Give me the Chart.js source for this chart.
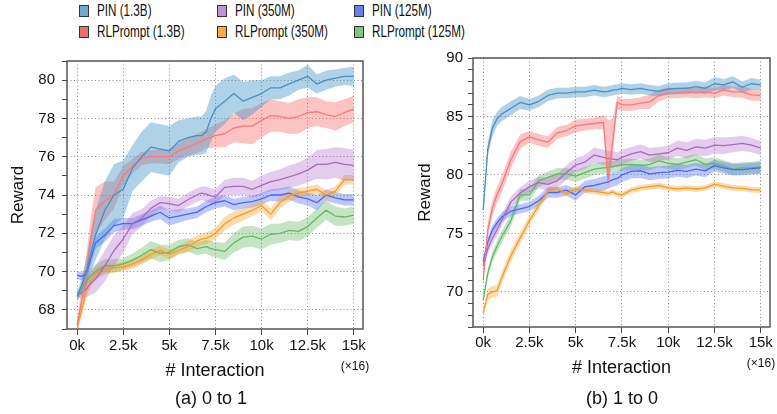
<!DOCTYPE html>
<html>
<head>
<meta charset="utf-8">
<script src="https://cdn.jsdelivr.net/npm/chart.js@4.4.1/dist/chart.umd.min.js"></script>
<style>
  body { margin: 0; background: #fff; width: 777px; height: 414px; position: relative; overflow: hidden;
         font-family: 'Liberation Sans', Arial, sans-serif; color: #111; }
  canvas { position: absolute; top: 0; }
  #chartA { left: 0; }
  #chartB { left: 390px; }
  .lg-box { position: absolute; width: 8px; height: 10px; border: 1px solid #333; }
  .lg-text { position: absolute; font-family: 'Liberation Sans', Arial, sans-serif;
             font-size: 16px; line-height: 20px; white-space: nowrap;
             transform: scaleX(0.73); transform-origin: 0 50%; }
  .caption { position: absolute; font-size: 18px; white-space: nowrap; transform: translate(-50%, -50%); }
  .mult { position: absolute; font-size: 12px; white-space: nowrap; transform: translate(-50%, -50%); }
</style>
</head>
<body>
<div id="legend"></div>
<canvas id="chartA" width="390" height="414"></canvas>
<canvas id="chartB" width="387" height="414"></canvas>
<div class="caption" style="left:211px; top:398px;">(a) 0 to 1</div>
<div class="caption" style="left:622px; top:398px;">(b) 1 to 0</div>
<div class="mult" style="left:355px; top:366px;">(×16)</div>
<div class="mult" style="left:761px; top:363px;">(×16)</div>
<script>
// x positions (in thousands of interactions)
const X = [0, 0.25, 0.5, 0.75, 1, 1.5, 2, 2.5, 3, 3.5, 4, 4.5, 5, 5.5, 6, 6.5, 6.75, 7, 7.25, 7.5,
           8, 8.5, 9, 9.5, 10, 10.5, 11, 11.5, 12, 12.5, 13, 13.5, 14, 14.5, 15];
const X_TICKS = [0, 2.5, 5, 7.5, 10, 12.5, 15];
const X_LABELS = ["0k", "2.5k", "5k", "7.5k", "10k", "12.5k", "15k"];
const Y_TICKS_A = [67, 68, 69, 70, 71, 72, 73, 74, 75, 76, 77, 78, 79, 80, 81];
const Y_MAJOR_A = [68, 70, 72, 74, 76, 78, 80];
const Y_TICKS_B = [67, 68, 69, 70, 71, 72, 73, 74, 75, 76, 77, 78, 79, 80, 81, 82, 83, 84, 85, 86, 87, 88, 89, 90];
const Y_MAJOR_B = [70, 75, 80, 85, 90];

const NAMES = ["PIN (1.3B)", "RLPrompt (1.3B)", "PIN (350M)", "RLPrompt (350M)", "PIN (125M)", "RLPrompt (125M)"];
const LINE_COLORS = ["#4a8ec1", "#f37b7b", "#a66bbf", "#f59c2a", "#4a67f5", "#66b866"];
const BAND_COLORS = ["rgba(64,148,199,0.42)", "rgba(250,110,110,0.42)", "rgba(170,100,200,0.33)",
                     "rgba(247,160,40,0.38)", "rgba(80,110,245,0.38)", "rgba(100,185,100,0.38)"];
const LEGEND_COLORS = ["#70a9d2", "#ef6f6b", "#c093d4", "#f9aa48", "#6a7ff2", "#80c880"];

// (a) 0 to 1 : mean reward and half band width
const aPin13 = [68.7, 69.3, 70.0, 71.0, 71.9, 73.2, 74.0, 74.3, 75.4, 76.0, 76.5, 76.4, 76.3, 76.8, 77.0, 77.1, 77.1, 77.3, 78.0, 78.5,
                78.9, 79.3, 78.9, 79.1, 79.3, 79.6, 79.6, 79.8, 80.0, 80.2, 79.8, 80.0, 80.1, 80.2, 80.2];
const aPin13Sd = [0.2, 0.4, 0.7, 1.0, 1.3, 1.5, 1.6, 1.5, 1.2, 1.3, 1.3, 1.3, 1.3, 1.1, 1.0, 1.0, 1.0, 1.1, 1.2, 1.2,
                  1.2, 1.0, 1.0, 0.9, 0.7, 0.6, 0.6, 0.6, 0.5, 0.6, 0.5, 0.5, 0.45, 0.45, 0.5];
const aRl13 = [67.2, 68.5, 70.0, 71.8, 73.2, 73.7, 74.0, 75.0, 75.5, 75.9, 76.0, 76.0, 76.0, 76.3, 76.5, 76.7, 76.8, 76.95, 77.0, 77.1,
               77.2, 77.5, 77.6, 77.6, 77.9, 78.15, 78.1, 78.0, 78.1, 78.3, 78.35, 78.2, 78.1, 78.3, 78.5];
const aRl13Sd = [0.3, 0.6, 0.9, 1.1, 1.2, 1.0, 0.7, 0.5, 0.4, 0.35, 0.35, 0.35, 0.4, 0.4, 0.45, 0.5, 0.5, 0.5, 0.55, 0.6,
                 0.7, 0.75, 0.9, 0.95, 0.9, 0.85, 0.8, 0.8, 0.9, 0.8, 0.75, 0.7, 0.75, 0.7, 0.7];
const aPin350 = [68.8, 68.9, 69.1, 69.4, 69.6, 70.3, 71.1, 71.7, 72.5, 72.8, 73.3, 73.6, 73.55, 73.45, 73.75, 74.0, 74.1, 74.05, 73.95, 73.9,
                 74.4, 74.45, 74.45, 74.3, 74.5, 74.7, 74.8, 74.95, 75.1, 75.3, 75.6, 75.6, 75.7, 75.6, 75.55];
const aPin350Sd = [0.2, 0.3, 0.45, 0.6, 0.7, 0.8, 0.8, 0.7, 0.55, 0.45, 0.4, 0.35, 0.35, 0.35, 0.35, 0.35, 0.35, 0.4, 0.4, 0.4,
                   0.4, 0.45, 0.45, 0.45, 0.5, 0.5, 0.55, 0.6, 0.6, 0.65, 0.75, 0.8, 0.8, 0.85, 0.8];
const aRl350 = [67.1, 68.0, 69.0, 69.5, 69.9, 70.1, 70.2, 70.25, 70.4, 70.6, 70.9, 71.1, 70.9, 71.1, 71.3, 71.6, 71.7, 71.75, 71.85, 72.0,
                72.5, 72.8, 73.0, 73.2, 73.45, 73.0, 73.6, 73.95, 74.1, 74.2, 74.3, 74.0, 74.2, 74.8, 74.8];
const aRl350Sd = [0.3, 0.35, 0.35, 0.3, 0.3, 0.25, 0.25, 0.25, 0.25, 0.25, 0.25, 0.25, 0.25, 0.25, 0.3, 0.3, 0.3, 0.3, 0.3, 0.3,
                  0.35, 0.35, 0.35, 0.3, 0.3, 0.3, 0.3, 0.3, 0.25, 0.25, 0.25, 0.25, 0.25, 0.25, 0.25];
const aPin125 = [69.8, 69.75, 69.9, 70.7, 71.5, 71.9, 72.4, 72.5, 72.5, 72.7, 72.9, 73.1, 72.8, 72.9, 73.0, 73.1, 73.25, 73.4, 73.5, 73.6,
                 73.7, 73.5, 73.6, 73.65, 73.8, 74.0, 74.0, 74.1, 73.9, 73.8, 73.6, 74.0, 73.85, 73.75, 73.75];
const aPin125Sd = [0.2, 0.2, 0.25, 0.3, 0.3, 0.35, 0.35, 0.3, 0.3, 0.3, 0.3, 0.35, 0.4, 0.35, 0.3, 0.3, 0.3, 0.3, 0.3, 0.3,
                   0.3, 0.3, 0.3, 0.3, 0.3, 0.3, 0.35, 0.35, 0.35, 0.35, 0.4, 0.3, 0.3, 0.3, 0.3];
const aRl125 = [68.7, 69.1, 69.5, 69.8, 70.0, 70.3, 70.3, 70.4, 70.6, 70.85, 71.15, 70.95, 71.0, 71.3, 71.4, 71.2, 71.25, 71.3, 71.2, 71.15,
                71.05, 71.5, 71.8, 71.85, 71.7, 71.95, 72.0, 72.15, 72.1, 72.35, 72.8, 73.2, 72.9, 72.85, 72.95];
const aRl125Sd = [0.2, 0.3, 0.3, 0.35, 0.35, 0.35, 0.35, 0.3, 0.35, 0.4, 0.45, 0.45, 0.4, 0.35, 0.35, 0.35, 0.35, 0.35, 0.4, 0.4,
                  0.45, 0.5, 0.55, 0.55, 0.55, 0.55, 0.5, 0.5, 0.5, 0.5, 0.5, 0.5, 0.5, 0.45, 0.45];

// (b) 1 to 0
const bPin13 = [77.0, 82.2, 84.0, 84.8, 85.2, 85.7, 86.2, 86.0, 86.3, 86.8, 87.0, 87.0, 87.1, 87.1, 87.25, 87.1, 87.15, 87.25, 87.3, 87.4,
                87.3, 87.4, 87.25, 87.15, 87.35, 87.4, 87.4, 87.55, 87.4, 87.8, 87.7, 87.95, 87.5, 87.8, 87.7];
const bPin13Sd = [0.3, 0.6, 0.7, 0.6, 0.6, 0.6, 0.55, 0.5, 0.5, 0.5, 0.45, 0.45, 0.45, 0.45, 0.45, 0.45, 0.45, 0.45, 0.45, 0.45,
                  0.45, 0.45, 0.45, 0.45, 0.5, 0.5, 0.5, 0.5, 0.5, 0.55, 0.5, 0.5, 0.5, 0.5, 0.45];
const bRl13 = [71.0, 75.3, 77.2, 78.3, 79.2, 81.3, 82.85, 83.25, 83.0, 82.8, 83.6, 83.8, 84.2, 84.3, 84.4, 84.5, 79.6, 82.9, 86.2, 86.0,
               86.0, 86.15, 86.25, 86.8, 87.0, 87.0, 87.1, 87.0, 87.1, 87.0, 87.25, 87.1, 87.1, 86.85, 86.8];
const bRl13Sd = [0.3, 0.6, 0.7, 0.7, 0.7, 0.7, 0.6, 0.5, 0.5, 0.5, 0.5, 0.5, 0.55, 0.5, 0.5, 0.6, 0.7, 1.4, 0.6, 0.5,
                 0.5, 0.5, 0.6, 0.5, 0.45, 0.45, 0.45, 0.45, 0.45, 0.45, 0.45, 0.45, 0.5, 0.5, 0.45];
const bRl13SdUp = [0.3, 0.6, 0.7, 0.7, 0.7, 0.7, 0.6, 0.5, 0.5, 0.5, 0.5, 0.5, 0.55, 0.5, 0.5, 0.6, 5.1, 1.9, 0.6, 0.5,
                   0.5, 0.5, 0.6, 0.5, 0.45, 0.45, 0.45, 0.45, 0.45, 0.45, 0.45, 0.45, 0.5, 0.5, 0.45];
const bPin350 = [72.2, 73.7, 74.6, 75.3, 76.1, 77.7, 78.45, 79.0, 79.35, 79.2, 79.5, 80.2, 80.85, 81.1, 81.7, 81.5, 81.4, 81.35, 81.3, 81.5,
                 81.8, 82.0, 81.7, 81.8, 81.9, 82.3, 82.1, 82.4, 82.3, 82.55, 82.5, 82.6, 82.7, 82.55, 82.3];
const bPin350Sd = [0.3, 0.45, 0.5, 0.5, 0.5, 0.5, 0.5, 0.5, 0.5, 0.55, 0.6, 0.6, 0.6, 0.6, 0.65, 0.65, 0.65, 0.65, 0.65, 0.65,
                   0.6, 0.6, 0.6, 0.6, 0.6, 0.65, 0.7, 0.7, 0.7, 0.7, 0.7, 0.65, 0.65, 0.6, 0.6];
const bRl350 = [68.2, 69.8, 70.0, 70.1, 71.2, 73.1, 74.6, 76.1, 77.4, 78.6, 78.8, 78.4, 78.8, 78.7, 78.6, 78.5, 78.4, 78.55, 78.35, 78.3,
                78.7, 78.9, 79.0, 79.1, 78.9, 78.8, 78.9, 78.8, 78.9, 79.2, 79.05, 78.9, 78.85, 78.75, 78.7];
const bRl350Sd = [0.3, 0.5, 0.5, 0.5, 0.5, 0.5, 0.5, 0.45, 0.4, 0.3, 0.25, 0.25, 0.25, 0.25, 0.25, 0.25, 0.25, 0.25, 0.25, 0.25,
                  0.25, 0.25, 0.25, 0.25, 0.25, 0.25, 0.25, 0.25, 0.25, 0.25, 0.25, 0.25, 0.25, 0.25, 0.25];
const bPin125 = [72.6, 74.3, 75.3, 75.9, 76.4, 76.9, 77.1, 77.3, 77.8, 78.5, 78.5, 78.7, 78.3, 79.0, 79.1, 79.3, 79.4, 79.6, 79.7, 80.0,
                 80.3, 80.35, 80.1, 80.2, 80.25, 80.4, 80.3, 80.5, 80.35, 80.8, 80.6, 80.45, 80.45, 80.55, 80.6];
const bPin125Sd = [0.3, 0.4, 0.4, 0.4, 0.4, 0.4, 0.4, 0.4, 0.45, 0.45, 0.45, 0.45, 0.5, 0.5, 0.55, 0.6, 0.6, 0.6, 0.6, 0.6,
                   0.6, 0.6, 0.55, 0.55, 0.55, 0.55, 0.55, 0.55, 0.55, 0.5, 0.5, 0.5, 0.5, 0.5, 0.5];
const bRl125 = [69.3, 71.6, 73.0, 73.9, 74.7, 76.1, 78.3, 78.3, 79.5, 79.8, 80.1, 80.1, 79.9, 80.2, 80.5, 80.6, 80.65, 80.7, 80.8, 80.85,
                80.9, 80.8, 80.9, 81.2, 81.0, 80.9, 81.1, 81.3, 80.9, 81.0, 80.75, 80.5, 80.6, 80.6, 80.7];
const bRl125Sd = [0.3, 0.4, 0.45, 0.5, 0.5, 0.5, 0.5, 0.5, 0.5, 0.5, 0.5, 0.5, 0.5, 0.5, 0.5, 0.5, 0.5, 0.5, 0.5, 0.5,
                  0.5, 0.5, 0.5, 0.55, 0.5, 0.5, 0.5, 0.5, 0.5, 0.5, 0.5, 0.5, 0.5, 0.5, 0.55];

const FONT = "'Liberation Sans', Arial, sans-serif";

//LEGEND
const legend = document.getElementById("legend");
const legendCols = [79, 217, 354];
NAMES.forEach((name, i) => {
    const col = Math.floor(i / 2), row = i % 2;
    const box = document.createElement("div");
    box.className = "lg-box";
    box.style.left = legendCols[col] + "px";
    box.style.top = (row === 0 ? 5 : 26) + "px";
    box.style.background = LEGEND_COLORS[i];
    legend.appendChild(box);
    const txt = document.createElement("div");
    txt.className = "lg-text";
    txt.textContent = name;
    txt.style.left = (legendCols[col] + 18) + "px";
    txt.style.top = (row === 0 ? 1 : 22) + "px";
    legend.appendChild(txt);
});

//CHARTS
const framePlugin = {
    id: "frame",
    afterDraw(chart) {
        const { ctx, chartArea: a } = chart;
        ctx.save();
        ctx.strokeStyle = "#555";
        ctx.lineWidth = 1.5;
        ctx.strokeRect(a.left, a.top, a.right - a.left, a.bottom - a.top);
        ctx.restore();
    }
};

function buildDatasets(series) {
    let datasets = [];
    series.forEach((s, i) => {
        const up = s.up || s.sd;
        datasets.push({
            data: X.map((x, k) => ({ x: x, y: s.mean[k] + up[k] })),
            fill: "+1", backgroundColor: BAND_COLORS[i], borderColor: "rgba(0,0,0,0)",
            borderWidth: 0, pointRadius: 0, order: 2
        });
        datasets.push({
            data: X.map((x, k) => ({ x: x, y: s.mean[k] - s.sd[k] })),
            fill: false, borderColor: "rgba(0,0,0,0)", borderWidth: 0, pointRadius: 0, order: 2
        });
    });
    series.forEach((s, i) => {
        datasets.push({
            data: X.map((x, k) => ({ x: x, y: s.mean[k] })),
            fill: false, borderColor: LINE_COLORS[i], borderWidth: 1.3, pointRadius: 0,
            borderJoinStyle: "round", order: 1
        });
    });
    return datasets;
}

function makeChart(id, series, cfg) {
    return new Chart(document.getElementById(id), {
        type: "line",
        data: { datasets: buildDatasets(series) },
        plugins: [framePlugin],
        options: {
            responsive: false,
            animation: false,
            layout: { padding: cfg.padding },
            plugins: { legend: { display: false }, tooltip: { enabled: false } },
            scales: {
                x: {
                    type: "linear", min: -0.55, max: 15.5,
                    afterBuildTicks: s => { s.ticks = X_TICKS.map(v => ({ value: v })); },
                    afterFit: s => { s.height = cfg.xHeight; },
                    ticks: {
                        autoSkip: false, maxRotation: 0, padding: cfg.xPad, color: "#111",
                        font: { size: 15, family: FONT },
                        callback: v => X_LABELS[X_TICKS.indexOf(v)]
                    },
                    grid: { color: "#8a8a8a", lineWidth: 1, tickColor: "#444", tickLength: 6, tickBorderDash: [] },
                    border: { display: false, dash: [1, 2.5] },
                    title: {
                        display: true, text: "# Interaction", color: "#111",
                        font: { size: 18, family: FONT }, padding: { top: 0, bottom: cfg.xTitlePad }
                    }
                },
                y: {
                    type: "linear", min: cfg.yMin, max: cfg.yMax,
                    afterBuildTicks: s => { s.ticks = cfg.yTicks.map(v => ({ value: v })); },
                    afterFit: s => { s.width = cfg.yWidth; },
                    ticks: {
                        autoSkip: false, padding: cfg.yPad, color: "#111",
                        font: { size: 15, family: FONT },
                        callback: v => cfg.yMajor.includes(v) ? String(v) : ""
                    },
                    grid: {
                        color: c => (c.tick && cfg.yMajor.includes(c.tick.value)) ? "#8a8a8a" : "rgba(0,0,0,0)",
                        lineWidth: 1, tickColor: "#444", tickLength: 5, tickBorderDash: []
                    },
                    border: { display: false, dash: [1, 2.5] },
                    title: {
                        display: true, text: "Reward", color: "#111",
                        font: { size: 17, family: FONT }, padding: { top: cfg.yTitlePad, bottom: 0 }
                    }
                }
            }
        }
    });
}

makeChart("chartA", [
    { mean: aPin13, sd: aPin13Sd },
    { mean: aRl13, sd: aRl13Sd },
    { mean: aPin350, sd: aPin350Sd },
    { mean: aRl350, sd: aRl350Sd },
    { mean: aPin125, sd: aPin125Sd },
    { mean: aRl125, sd: aRl125Sd }
], {
    padding: { left: 0, right: 27, top: 61, bottom: 0 },
    xHeight: 85, xPad: 2, xTitlePad: 32,
    yMin: 67, yMax: 81, yTicks: Y_TICKS_A, yMajor: Y_MAJOR_A,
    yWidth: 67, yPad: 7, yTitlePad: 8
});

makeChart("chartB", [
    { mean: bPin13, sd: bPin13Sd },
    { mean: bRl13, sd: bRl13Sd, up: bRl13SdUp },
    { mean: bPin350, sd: bPin350Sd },
    { mean: bRl350, sd: bRl350Sd },
    { mean: bPin125, sd: bPin125Sd },
    { mean: bRl125, sd: bRl125Sd }
], {
    padding: { left: 0, right: 7, top: 58, bottom: 0 },
    xHeight: 87, xPad: 1, xTitlePad: 35,
    yMin: 67, yMax: 90, yTicks: Y_TICKS_B, yMajor: Y_MAJOR_B,
    yWidth: 83, yPad: 5, yTitlePad: 25
});
</script>
</body>
</html>
